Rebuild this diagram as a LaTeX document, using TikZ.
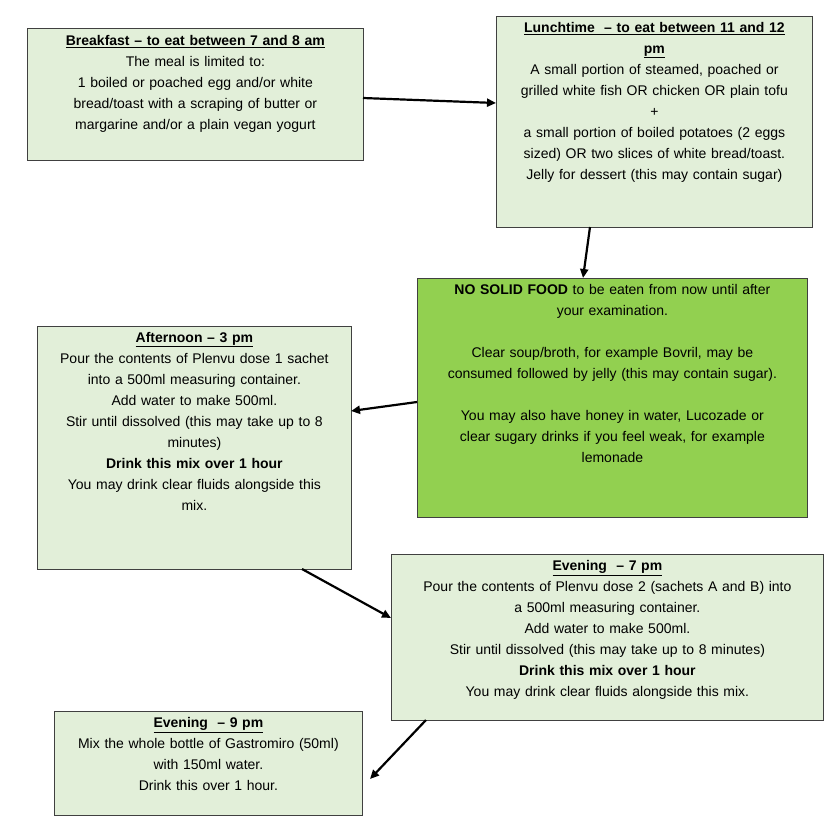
\documentclass[tikz,border=0pt]{standalone}
\usepackage{fontspec}
\setmainfont{Liberation Sans}
\usetikzlibrary{arrows.meta}
\definecolor{lg}{HTML}{E2EFD9}
\definecolor{dg}{HTML}{92D050}
\begin{document}
\begin{tikzpicture}[x=1pt,y=1pt,
  box/.style={draw=black!75,line width=0.8pt,anchor=north west,inner sep=0pt},
  txt/.style={anchor=north,align=center,font=\fontsize{14}{21}\selectfont,inner sep=0pt},
  arr/.style={-{Triangle[length=9pt,width=8pt]},line width=2.2pt}]
\useasboundingbox (0,0) rectangle (840,-828);
\node[box,fill=lg,minimum width=336,minimum height=132] (b1) at (27,-28) {};
\node[txt,text width=330] at ([yshift=-7]b1.north) {\textbf{\underline{Breakfast – to eat between 7 and 8 am}}\\The meal is limited to:\\1 boiled or poached egg and/or white\\bread/toast with a scraping of butter or\\margarine and/or a plain vegan yogurt};
\node[box,fill=lg,minimum width=316,minimum height=211] (b2) at (496,-16) {};
\node[txt,text width=312] at ([yshift=-6]b2.north) {\textbf{\underline{Lunchtime\ \ – to eat between 11 and 12}}\\\textbf{\underline{pm}}\\A small portion of steamed, poached or\\grilled white fish OR chicken OR plain tofu\\+\\a small portion of boiled potatoes (2 eggs\\sized) OR two slices of white bread/toast.\\Jelly for dessert (this may contain sugar)};
\node[box,fill=dg,minimum width=390,minimum height=239] (b3) at (417,-278) {};
\node[txt,text width=385] at ([yshift=-6]b3.north) {\textbf{NO SOLID FOOD} to be eaten from now until after\\your examination.\\[21pt]Clear soup/broth, for example Bovril, may be\\consumed followed by jelly (this may contain sugar).\\[21pt]You may also have honey in water, Lucozade or\\clear sugary drinks if you feel weak, for example\\lemonade};
\node[box,fill=lg,minimum width=314,minimum height=243] (b4) at (37,-326) {};
\node[txt,text width=310] at ([yshift=-6]b4.north) {\textbf{\underline{Afternoon – 3 pm}}\\Pour the contents of Plenvu dose 1 sachet\\into a 500ml measuring container.\\Add water to make 500ml.\\Stir until dissolved (this may take up to 8\\minutes)\\\textbf{Drink this mix over 1 hour}\\You may drink clear fluids alongside this\\mix.};
\node[box,fill=lg,minimum width=432,minimum height=166] (b5) at (391,-554) {};
\node[txt,text width=428] at ([yshift=-6]b5.north) {\textbf{\underline{Evening\ \ – 7 pm}}\\Pour the contents of Plenvu dose 2 (sachets A and B) into\\a 500ml measuring container.\\Add water to make 500ml.\\Stir until dissolved (this may take up to 8 minutes)\\\textbf{Drink this mix over 1 hour}\\You may drink clear fluids alongside this mix.};
\node[box,fill=lg,minimum width=308,minimum height=104] (b6) at (54,-711) {};
\node[txt,text width=304] at ([yshift=-6]b6.north) {\textbf{\underline{Evening\ \ – 9 pm}}\\Mix the whole bottle of Gastromiro (50ml)\\with 150ml water.\\Drink this over 1 hour.};
\coordinate (p1) at (363,-98); \coordinate (q1) at (496,-103);
\coordinate (p2) at (590,-227); \coordinate (q2) at (583,-278);
\coordinate (p3) at (417,-402); \coordinate (q3) at (351,-411);
\coordinate (p4) at (302,-569); \coordinate (q4) at (391,-618);
\coordinate (p5) at (426,-720); \coordinate (q5) at (370,-779);
\draw[arr] (p1)--(q1); \draw[arr] (p2)--(q2); \draw[arr] (p3)--(q3);
\draw[arr] (p4)--(q4); \draw[arr] (p5)--(q5);
\end{tikzpicture}
\end{document}
